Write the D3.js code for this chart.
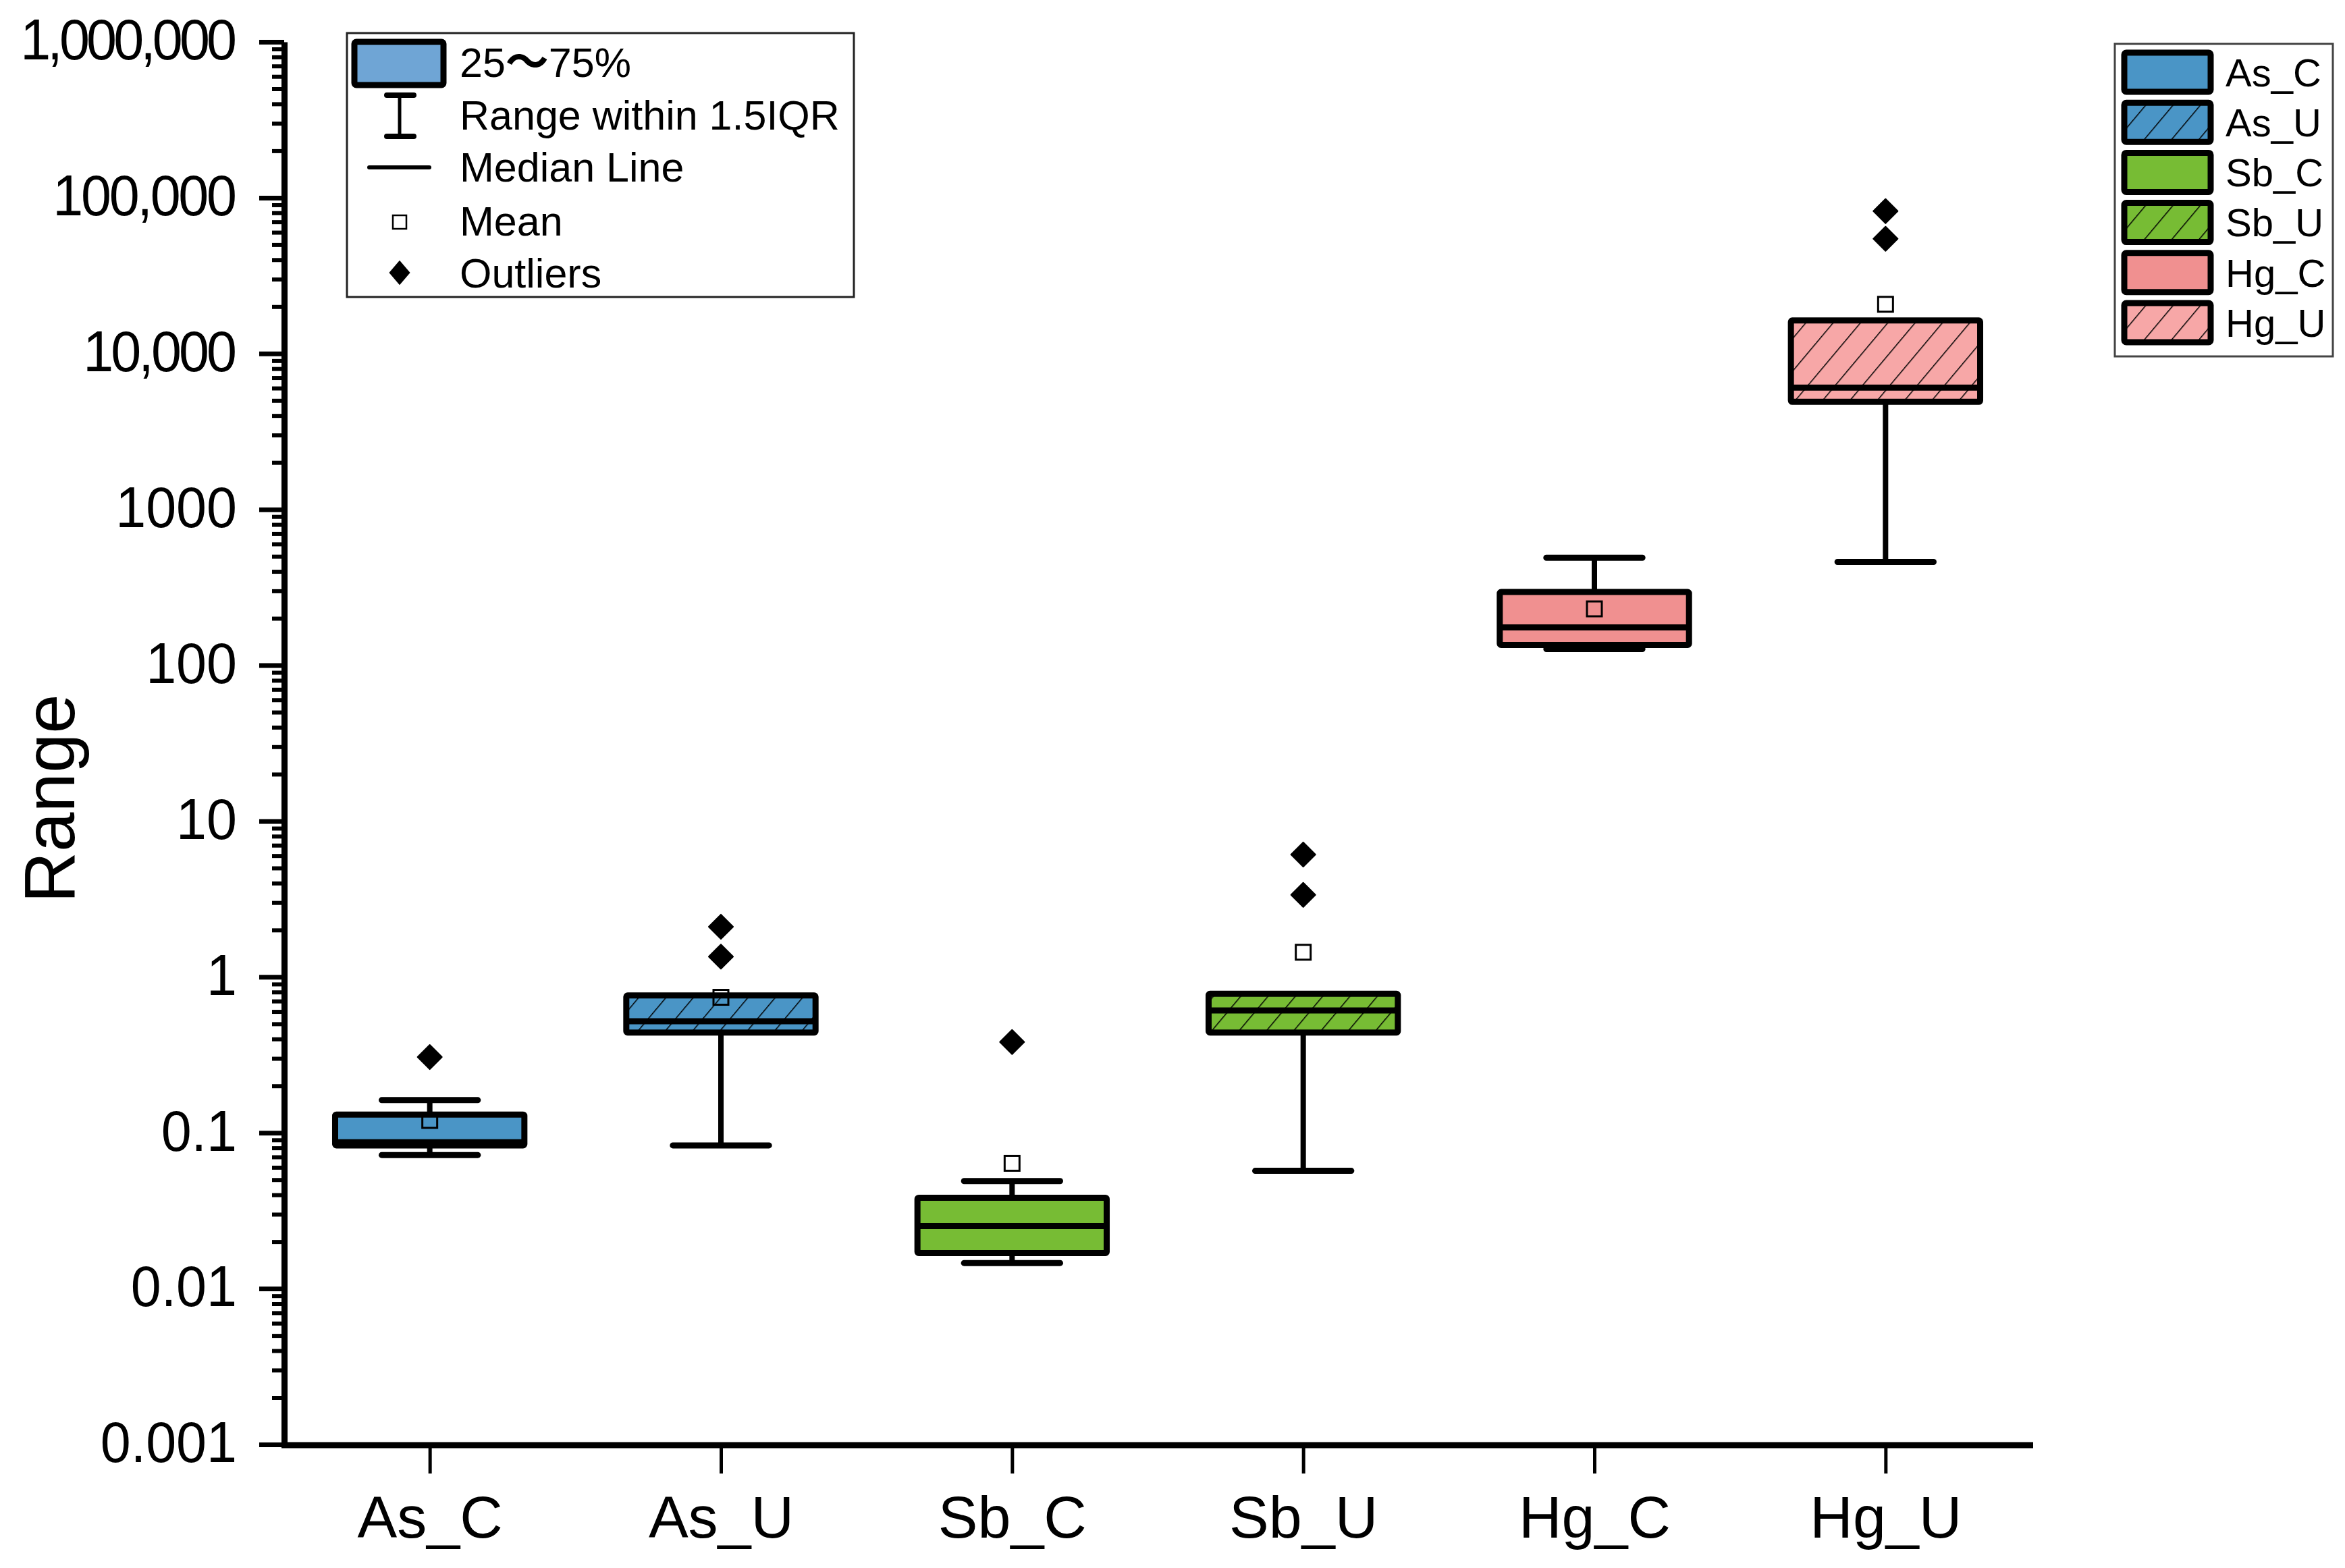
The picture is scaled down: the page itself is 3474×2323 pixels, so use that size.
<!DOCTYPE html>
<html>
<head>
<meta charset="utf-8">
<script src="https://cdn.jsdelivr.net/npm/d3@7"></script>
<style>
  html, body { margin: 0; padding: 0; background: #ffffff; }
  svg { display: block; font-family: "Liberation Sans", Arial, sans-serif; }
</style>
</head>
<body>
<script>
// ---------------- data ----------------
const categories  = ["As_C", "As_U", "Sb_C", "Sb_U", "Hg_C", "Hg_U"];
const q1          = [0.083, 0.44, 0.0169, 0.44, 135, 4900];
const median      = [0.087, 0.52, 0.0252, 0.61, 175, 6050];
const q3          = [0.131, 0.76, 0.0383, 0.78, 295, 16300];
const whiskerLow  = [0.072, 0.083, 0.0146, 0.057, 127, 460];
const whiskerHigh = [0.162, 0.76, 0.049, 0.78, 490, 16300];
const means       = [0.12, 0.74, 0.0637, 1.44, 230, 20700];
const outliers    = [[0.306], [1.35, 2.1], [0.382], [3.36, 6.1], [], [54500, 82000]];
const hatched     = [false, true, false, true, false, true];
const fillColors  = ["#4a95c6", "#4a95c6", "#77bc34", "#77bc34", "#f09090", "#f7a7a7"];

const yTickValues = [0.001, 0.01, 0.1, 1, 10, 100, 1000, 10000, 100000, 1000000];
const yTickLabels = ["0.001", "0.01", "0.1", "1", "10", "100", "1000", "10,000", "100,000", "1,000,000"];

const statLegendLabels = ["25\uFF5E75%", "Range within 1.5IQR", "Median Line", "Mean", "Outliers"];
const yTitle = "Range";

// ---------------- layout ----------------
const W = 3474, H = 2323;
const plot = { left: 421, right: 3009, top: 62, bottom: 2140 };
const FONT = "'Liberation Sans', Arial, sans-serif";

const svg = d3.select("body").append("svg")
  .attr("width", W).attr("height", H)
  .attr("viewBox", `0 0 ${W} ${H}`);

svg.append("rect").attr("width", W).attr("height", H).attr("fill", "#ffffff");

const defs = svg.append("defs");
defs.append("pattern")
  .attr("id", "hatch")
  .attr("patternUnits", "userSpaceOnUse")
  .attr("width", 31).attr("height", 31)
  .attr("patternTransform", "rotate(40)")
  .append("line")
  .attr("x1", 0).attr("y1", -5).attr("x2", 0).attr("y2", 36)
  .attr("stroke", "#000").attr("stroke-width", 3);

// ---------------- scales ----------------
const x = d3.scalePoint().domain(categories).range([plot.left, plot.right]).padding(0.5);
const y = d3.scaleLog().domain([0.001, 1000000]).range([plot.bottom, plot.top]);

const step = x.step();
const boxW = step * 0.65;
const capW = step * 0.33;

// ---------------- axes ----------------
const minorTicks = [];
for (let k = -3; k <= 5; k++) for (let m = 2; m <= 9; m++) minorTicks.push(m * Math.pow(10, k));

const yMinorG = svg.append("g").attr("transform", `translate(${plot.left},0)`)
  .call(d3.axisLeft(y).tickValues(minorTicks).tickSize(18).tickSizeOuter(0).tickFormat(""));
yMinorG.select(".domain").remove();
yMinorG.selectAll(".tick line").attr("stroke", "#000").attr("stroke-width", 6);

const yAxisG = svg.append("g").attr("transform", `translate(${plot.left},0)`)
  .call(d3.axisLeft(y).tickValues(yTickValues).tickSize(37).tickSizeOuter(0).tickPadding(33)
    .tickFormat((d, i) => yTickLabels[i]));
yAxisG.select(".domain").attr("stroke", "#000").attr("stroke-width", 9);
yAxisG.selectAll(".tick line").attr("stroke", "#000").attr("stroke-width", 7);
const sx = 0.94;
yAxisG.selectAll(".tick text").each(function (d, i) {
  const s = yTickLabels[i];
  const t = d3.select(this)
    .attr("font-family", FONT).attr("font-size", 86).attr("fill", "#000")
    .attr("x", -70 / sx).attr("dy", "0.3em")
    .attr("transform", `scale(${sx},1)`);
  const nComma = (s.match(/,/g) || []).length;
  if (nComma > 0) {
    const w = this.getComputedTextLength();
    t.attr("textLength", w - nComma * 0.24 * 86).attr("lengthAdjust", "spacing");
  }
});

const xAxisG = svg.append("g").attr("transform", `translate(0,${plot.bottom + 1})`)
  .call(d3.axisBottom(x).tickSize(42).tickSizeOuter(0).tickPadding(33));
xAxisG.select(".domain").attr("stroke", "#000").attr("stroke-width", 9)
  .attr("d", `M${plot.left - 4},0H${plot.right + 3}`);
xAxisG.selectAll(".tick line").attr("stroke", "#000").attr("stroke-width", 5);
xAxisG.selectAll(".tick text").attr("font-family", FONT).attr("font-size", 88).attr("fill", "#000");

svg.append("text")
  .attr("transform", "translate(110,1183) rotate(-90)")
  .attr("text-anchor", "middle")
  .attr("font-family", FONT).attr("font-size", 105).attr("fill", "#000")
  .text(yTitle);

// ---------------- boxes ----------------
const data = categories.map((c, i) => ({
  c, i, q1: q1[i], med: median[i], q3: q3[i], lo: whiskerLow[i], hi: whiskerHigh[i],
  mean: means[i], out: outliers[i], hatch: hatched[i], color: fillColors[i]
}));

const gBox = svg.append("g");
const item = gBox.selectAll("g.box").data(data).join("g").attr("class", "box");

// whiskers
item.filter(d => d.hi > d.q3).append("line")
  .attr("x1", d => x(d.c)).attr("x2", d => x(d.c))
  .attr("y1", d => y(d.q3)).attr("y2", d => y(d.hi))
  .attr("stroke", "#000").attr("stroke-width", 8);
item.filter(d => d.hi > d.q3).append("line")
  .attr("x1", d => x(d.c) - capW / 2).attr("x2", d => x(d.c) + capW / 2)
  .attr("y1", d => y(d.hi)).attr("y2", d => y(d.hi))
  .attr("stroke", "#000").attr("stroke-width", 9).attr("stroke-linecap", "round");
item.append("line")
  .attr("x1", d => x(d.c)).attr("x2", d => x(d.c))
  .attr("y1", d => y(d.q1)).attr("y2", d => y(d.lo))
  .attr("stroke", "#000").attr("stroke-width", 8);
item.append("line")
  .attr("x1", d => x(d.c) - capW / 2).attr("x2", d => x(d.c) + capW / 2)
  .attr("y1", d => y(d.lo)).attr("y2", d => y(d.lo))
  .attr("stroke", "#000").attr("stroke-width", 9).attr("stroke-linecap", "round");

// box fill
item.append("rect")
  .attr("x", d => x(d.c) - boxW / 2).attr("width", boxW)
  .attr("y", d => y(d.q3)).attr("height", d => y(d.q1) - y(d.q3))
  .attr("fill", d => d.color);
item.filter(d => d.hatch).append("rect")
  .attr("x", d => x(d.c) - boxW / 2).attr("width", boxW)
  .attr("y", d => y(d.q3)).attr("height", d => y(d.q1) - y(d.q3))
  .attr("fill", "url(#hatch)");
// median
item.append("line")
  .attr("x1", d => x(d.c) - boxW / 2).attr("x2", d => x(d.c) + boxW / 2)
  .attr("y1", d => y(d.med)).attr("y2", d => y(d.med))
  .attr("stroke", "#000").attr("stroke-width", 9);
// border
item.append("rect")
  .attr("x", d => x(d.c) - boxW / 2).attr("width", boxW)
  .attr("y", d => y(d.q3)).attr("height", d => y(d.q1) - y(d.q3))
  .attr("fill", "none").attr("stroke", "#000").attr("stroke-width", 9)
  .attr("stroke-linejoin", "round").attr("rx", 2);

// mean
item.append("rect")
  .attr("x", d => x(d.c) - 11).attr("y", d => y(d.mean) - 11)
  .attr("width", 22).attr("height", 22)
  .attr("fill", "none").attr("stroke", "#000").attr("stroke-width", 3);

// outliers
const diamond = d3.symbol(d3.symbolSquare, 650);
item.selectAll("path.out").data(d => d.out.map(v => ({ c: d.c, v }))).join("path")
  .attr("class", "out")
  .attr("d", diamond)
  .attr("transform", d => `translate(${x(d.c)},${y(d.v)}) rotate(45)`)
  .attr("fill", "#000")
  .attr("stroke", "#000").attr("stroke-width", 2).attr("stroke-linejoin", "round");

// ---------------- stat legend (top-left) ----------------
const lg1 = svg.append("g");
lg1.append("rect").attr("x", 514).attr("y", 49).attr("width", 751).attr("height", 391)
  .attr("fill", "#fff").attr("stroke", "#222").attr("stroke-width", 3);
const rowY = [93, 171, 248, 328, 405];
lg1.selectAll("text").data(statLegendLabels).join("text")
  .attr("x", 681).attr("y", (d, i) => rowY[i]).attr("dy", "0.35em")
  .attr("font-family", FONT).attr("font-size", 61).attr("fill", "#000")
  .each(function (d) {
    const t = d3.select(this);
    const k = d.indexOf("\uFF5E");
    if (k >= 0) {
      t.append("tspan").text(d.slice(0, k));
      t.append("tspan").attr("font-family", "'Noto Sans CJK SC', sans-serif")
        .attr("font-weight", "bold").attr("font-size", 64).text("\uFF5E");
      t.append("tspan").text(d.slice(k + 1));
    } else {
      t.text(d);
    }
  });
// swatch
lg1.append("rect").attr("x", 525).attr("y", 62).attr("width", 132).attr("height", 64)
  .attr("fill", "#6fa5d5").attr("stroke", "#000").attr("stroke-width", 9)
  .attr("stroke-linejoin", "round").attr("rx", 3);
// range I-beam
lg1.append("line").attr("x1", 592).attr("x2", 592).attr("y1", 141).attr("y2", 202)
  .attr("stroke", "#000").attr("stroke-width", 5);
[141, 202].forEach(yy => lg1.append("line").attr("x1", 573).attr("x2", 613).attr("y1", yy).attr("y2", yy)
  .attr("stroke", "#000").attr("stroke-width", 8).attr("stroke-linecap", "round"));
// median line
lg1.append("line").attr("x1", 547).attr("x2", 636).attr("y1", 248).attr("y2", 248)
  .attr("stroke", "#000").attr("stroke-width", 6).attr("stroke-linecap", "round");
// mean square
lg1.append("rect").attr("x", 582).attr("y", 319).attr("width", 20).attr("height", 20)
  .attr("fill", "#fff").attr("stroke", "#000").attr("stroke-width", 2.5);
// outlier diamond
lg1.append("path").attr("d", d3.symbol(d3.symbolSquare, 600))
  .attr("transform", "translate(592,404) scale(0.9,1.05) rotate(45)")
  .attr("fill", "#000");

// ---------------- category legend (top-right) ----------------
const lg2 = svg.append("g");
lg2.append("rect").attr("x", 3133).attr("y", 65).attr("width", 323).attr("height", 463)
  .attr("fill", "#fff").attr("stroke", "#444").attr("stroke-width", 3);
const lgItem = lg2.selectAll("g.it").data(data).join("g").attr("class", "it")
  .attr("transform", (d, i) => `translate(0,${107 + i * 74.2})`);
lgItem.append("rect").attr("x", 3147).attr("y", -29).attr("width", 128).attr("height", 58)
  .attr("fill", d => d.color);
lgItem.filter(d => d.hatch).append("rect").attr("x", 3147).attr("y", -29).attr("width", 128).attr("height", 58)
  .attr("fill", "url(#hatch)");
lgItem.append("rect").attr("x", 3147).attr("y", -29).attr("width", 128).attr("height", 58)
  .attr("fill", "none").attr("stroke", "#000").attr("stroke-width", 9)
  .attr("stroke-linejoin", "round").attr("rx", 3);
lgItem.append("text").attr("x", 3297).attr("y", 0).attr("dy", "0.36em")
  .attr("font-family", FONT).attr("font-size", 58).attr("fill", "#000")
  .text(d => d.c);
</script>
</body>
</html>
